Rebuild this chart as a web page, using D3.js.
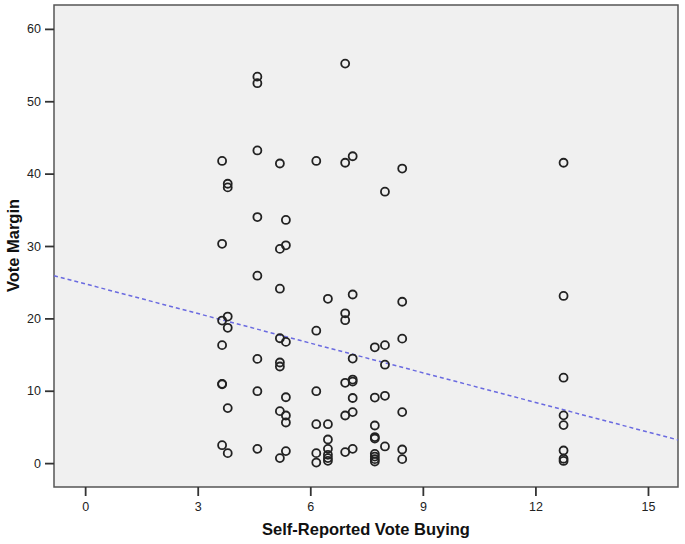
<!DOCTYPE html>
<html>
  <head>
    <style type="text/css">
      body { margin:0; background:#fff; }
      text { font-family:"Liberation Sans",Arial,Helvetica,sans-serif; }
      .tick text { font-size:12.5px; fill:#222; }
      .axis-title { font-size:16.5px; font-weight:bold; fill:#111; }
      circle.pt { fill:none; stroke:#222; stroke-width:1.8px; }
    </style>
  </head>
  <body>
    <div id="canvas"></div>
    <script src="https://cdnjs.cloudflare.com/ajax/libs/d3/7.8.5/d3.min.js"></script>
    <script type="text/javascript">

    // vote buying levels (one column of points each)
    var buyingLevels = [3.65, 3.8, 4.59, 5.19, 5.35, 6.16, 6.47, 6.93, 7.13, 7.72, 7.99, 8.45, 12.75];

    // vote margins, per level
    var marginsByLevel = [
      [41.75, 30.3, 19.7, 16.3, 10.95, 10.9, 2.48],
      [38.6, 38.1, 20.25, 18.7, 7.6, 1.38],
      [53.4, 52.5, 43.2, 34.0, 25.9, 14.4, 9.94, 1.97],
      [41.4, 29.6, 24.1, 17.25, 13.9, 13.35, 7.18, 0.69],
      [33.6, 30.1, 16.75, 9.1, 6.58, 5.61, 1.66],
      [41.75, 18.3, 9.94, 5.38, 1.38, 0.08],
      [22.7, 5.38, 3.26, 1.97, 1.15, 0.69, 0.32],
      [55.2, 41.5, 20.7, 19.75, 11.1, 6.58, 1.52],
      [42.4, 23.3, 14.45, 11.55, 11.27, 9.0, 7.05, 1.97],
      [16.0, 9.06, 5.2, 3.6, 3.4, 1.28, 0.91, 0.55, 0.22],
      [37.5, 16.3, 13.6, 9.3, 2.3],
      [40.7, 22.3, 17.2, 7.05, 1.88, 0.55],
      [41.5, 23.1, 11.8, 6.6, 5.25, 1.74, 0.6, 0.3]
    ];

    var xTicks = [0, 3, 6, 9, 12, 15];
    var yTicks = [0, 10, 20, 30, 40, 50, 60];

    // fit line (intercept, slope)
    var fitIntercept = 24.77;
    var fitSlope = -1.365;

    (function () {
      var width = 685, height = 544;
      var plotL = 54, plotR = 678, plotT = 5, plotB = 487;

      var x = d3.scaleLinear().domain([-0.83, 15.8]).range([plotL, plotR]);
      var y = d3.scaleLinear().domain([-3.3, 63.3]).range([plotB, plotT]);

      var svg = d3.select('#canvas').append('svg')
        .attr('width', width)
        .attr('height', height);

      svg.append('rect')
        .attr('x', plotL).attr('y', plotT)
        .attr('width', plotR - plotL).attr('height', plotB - plotT)
        .attr('fill', '#f0f0f0')
        .attr('stroke', '#555')
        .attr('stroke-width', 1.5);

      var points = [];
      buyingLevels.forEach(function (b, i) {
        marginsByLevel[i].forEach(function (m) {
          points.push({x: b, y: m});
        });
      });

      // fit line, drawn across the whole x domain
      var xd = x.domain();
      svg.append('line')
        .attr('x1', x(xd[0])).attr('y1', y(fitIntercept + fitSlope * xd[0]))
        .attr('x2', x(xd[1])).attr('y2', y(fitIntercept + fitSlope * xd[1]))
        .attr('stroke', '#6a6ae0')
        .attr('stroke-width', 1.5)
        .attr('stroke-dasharray', '4,3');

      svg.selectAll('circle.pt')
        .data(points)
        .enter().append('circle')
          .attr('class', 'pt')
          .attr('r', 4)
          .attr('cx', function (d) { return x(d.x); })
          .attr('cy', function (d) { return y(d.y); });

      var xAxis = svg.append('g')
        .attr('transform', 'translate(0,' + plotB + ')')
        .call(d3.axisBottom(x).tickValues(xTicks).tickSize(9).tickPadding(6));
      var yAxis = svg.append('g')
        .attr('transform', 'translate(' + plotL + ',0)')
        .call(d3.axisLeft(y).tickValues(yTicks).tickSize(9).tickPadding(4));

      [xAxis, yAxis].forEach(function (a) {
        a.select('.domain').remove();
        a.selectAll('.tick line').attr('stroke', '#333').attr('stroke-width', 1.8);
      });

      svg.append('text')
        .attr('class', 'axis-title')
        .attr('x', 366)
        .attr('y', 535)
        .attr('text-anchor', 'middle')
        .text('Self-Reported Vote Buying');

      svg.append('text')
        .attr('class', 'axis-title')
        .attr('transform', 'translate(19,245.5) rotate(-90)')
        .attr('text-anchor', 'middle')
        .text('Vote Margin');
    })();
    </script>
  </body>
</html>
